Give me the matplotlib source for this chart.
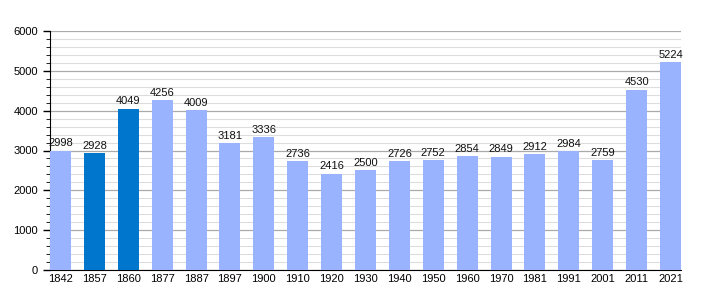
import matplotlib
matplotlib.use("Agg")
import matplotlib.pyplot as plt
import numpy as np
from matplotlib.ticker import MultipleLocator

years = ["1842", "1857", "1860", "1877", "1887", "1897", "1900", "1910", "1920", "1930",
         "1940", "1950", "1960", "1970", "1981", "1991", "2001", "2011", "2021"]
population = [2998, 2928, 4049, 4256, 4009, 3181, 3336, 2736, 2416, 2500,
              2726, 2752, 2854, 2849, 2912, 2984, 2759, 4530, 5224]
highlighted = ["1857", "1860"]

plt.rcParams['font.family'] = ['Liberation Sans', 'DejaVu Sans']

fig = plt.figure(figsize=(7.1, 3.0), dpi=100)
ax = fig.add_axes([50 / 710, 0.1, 631 / 710, 239 / 300])

x = np.arange(len(years))
colors = ["#0077cc" if y in highlighted else "#99b3ff" for y in years]
bars = ax.bar(x, population, width=0.62, color=colors, zorder=3)

for xi, v in zip(x, population):
    ax.text(xi, v + 60, str(v), ha="center", va="bottom", fontsize=8, color="#111111", zorder=4)

ax.set_xlim(-0.31, len(years) - 1 + 0.31)
ax.set_ylim(0, 6000)
ax.set_xticks(x)
ax.set_xticklabels(years, fontsize=8)
ax.yaxis.set_major_locator(MultipleLocator(1000))
ax.yaxis.set_minor_locator(MultipleLocator(200))
ax.tick_params(axis="y", labelsize=8, length=5, width=1)
ax.tick_params(axis="y", which="minor", length=3)
ax.tick_params(axis="x", length=0, pad=3)

ax.grid(axis="y", which="major", color="#aaaaaa", linewidth=0.9, zorder=0)
ax.grid(axis="y", which="minor", color="#dddddd", linewidth=0.8, zorder=0)
for s in ["top", "right"]:
    ax.spines[s].set_visible(False)
ax.spines["left"].set_color("black")
ax.spines["bottom"].set_color("black")

fig.savefig("out.png", dpi=100)
